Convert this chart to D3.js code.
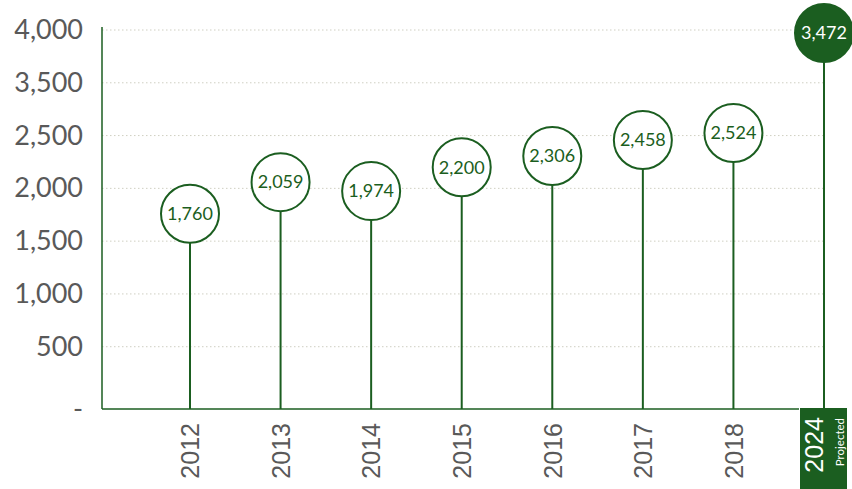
<!DOCTYPE html>
<html>
<head>
<meta charset="utf-8">
<script src="https://cdnjs.cloudflare.com/ajax/libs/d3/7.8.5/d3.min.js"></script>
<style>
  body { margin: 0; background: #fff; }
  svg { display: block; }
</style>
</head>
<body>
<div class="svg-container"></div>
<script>
// data
const years = ["2012", "2013", "2014", "2015", "2016", "2017", "2018", "2024"];
const values = [1760, 2059, 1974, 2200, 2306, 2458, 2524, 3472];
const projected = [false, false, false, false, false, false, false, true];
const yBase = -90; // floor of the value axis, shown as "-"
const yTickValues = [yBase, 500, 1000, 1500, 2000, 2500, 3000, 3500];
const yTickLabels = ["-", "500", "1,000", "1,500", "2,000", "2,500", "3,500", "4,000"];

const width = 852, height = 489;
const margin = { top: 30, right: 28, bottom: 80, left: 102 };
const baseY = height - margin.bottom;
const green = "#1b5e20";
const r = 29;

const svg = d3.select(".svg-container")
  .append("svg")
  .attr("width", width)
  .attr("height", height);

// X - POINT SCALE
const xScale = d3.scalePoint()
  .domain(years)
  .range([190, width - margin.right]);

// Y - LINEAR SCALE
const yScale = d3.scaleLinear()
  .domain([yBase, 3500])
  .range([baseY, margin.top]);

// gridlines
svg.append("g")
  .selectAll("line")
  .data(yTickValues.slice(1))
  .enter()
  .append("line")
  .attr("x1", margin.left)
  .attr("x2", xScale("2024"))
  .attr("y1", d => yScale(d))
  .attr("y2", d => yScale(d))
  .style("stroke", "#cfcfc2")
  .style("stroke-width", 1)
  .style("stroke-dasharray", "1.5,2.5");

// Y-AXIS
const yAxis = d3.axisLeft(yScale)
  .tickValues(yTickValues)
  .tickFormat((d, i) => yTickLabels[i])
  .tickSize(0)
  .tickPadding(19);

const yG = svg.append("g")
  .attr("id", "y-axis")
  .attr("transform", "translate(" + margin.left + ",0)")
  .call(yAxis);
yG.select(".domain").remove();
yG.selectAll("text")
  .style("font-family", "Lato, 'Open Sans', sans-serif")
  .style("font-size", "27px")
  .style("fill", "#595959");

svg.append("line")
  .attr("x1", margin.left).attr("x2", margin.left)
  .attr("y1", 27).attr("y2", baseY)
  .style("stroke", green)
  .style("stroke-width", 1.5);

// X-AXIS
const xAxis = d3.axisBottom(xScale).tickSize(0);
const xG = svg.append("g")
  .attr("id", "x-axis")
  .attr("transform", "translate(0," + baseY + ")")
  .call(xAxis);
xG.select(".domain").remove();

svg.append("line")
  .attr("x1", margin.left).attr("x2", xScale("2024") - 25)
  .attr("y1", baseY).attr("y2", baseY)
  .style("stroke", green)
  .style("stroke-width", 1.5);

xG.selectAll(".tick").each(function (d, i) {
  const tick = d3.select(this);
  const text = tick.select("text")
    .attr("transform", "rotate(-90)")
    .attr("x", -14)
    .attr("y", 0)
    .attr("dy", "0.35em")
    .attr("text-anchor", "end")
    .style("font-family", "'Liberation Sans', Arial, sans-serif")
    .style("font-size", "25px")
    .style("fill", "#595959");

  if (projected[i]) {
    tick.insert("rect", "text")
      .attr("x", -24.5)
      .attr("y", -1)
      .attr("width", 47)
      .attr("height", height - baseY + 1)
      .style("fill", green);
    text
      .attr("x", -8)
      .attr("y", -10)
      .style("fill", "#fff");
    tick.append("text")
      .attr("transform", "rotate(-90)")
      .attr("x", -9)
      .attr("y", 15)
      .attr("dy", "0.35em")
      .attr("text-anchor", "end")
      .style("font-family", "Lato, 'Open Sans', sans-serif")
      .style("font-size", "11.5px")
      .style("fill", "#fff")
      .text("Projected");
  }
});

// stems
svg.selectAll(".stem")
  .data(values)
  .enter()
  .append("line")
  .attr("class", "stem")
  .attr("x1", (d, i) => xScale(years[i]))
  .attr("x2", (d, i) => xScale(years[i]))
  .attr("y1", d => yScale(d) + r)
  .attr("y2", baseY)
  .style("stroke", green)
  .style("stroke-width", 2);

// circles
svg.selectAll(".dot")
  .data(values)
  .enter()
  .append("circle")
  .attr("class", "dot")
  .attr("cx", (d, i) => xScale(years[i]))
  .attr("cy", d => yScale(d))
  .attr("r", r)
  .style("fill", (d, i) => projected[i] ? green : "#fff")
  .style("stroke", green)
  .style("stroke-width", 2);

svg.selectAll(".dot-label")
  .data(values)
  .enter()
  .append("text")
  .attr("class", "dot-label")
  .attr("x", (d, i) => xScale(years[i]))
  .attr("y", d => yScale(d))
  .attr("dy", "0.35em")
  .attr("text-anchor", "middle")
  .style("font-family", "Lato, 'Open Sans', sans-serif")
  .style("font-size", "18px")
  .style("fill", (d, i) => projected[i] ? "#fff" : green)
  .text(d => d3.format(",")(d));
</script>
</body>
</html>
